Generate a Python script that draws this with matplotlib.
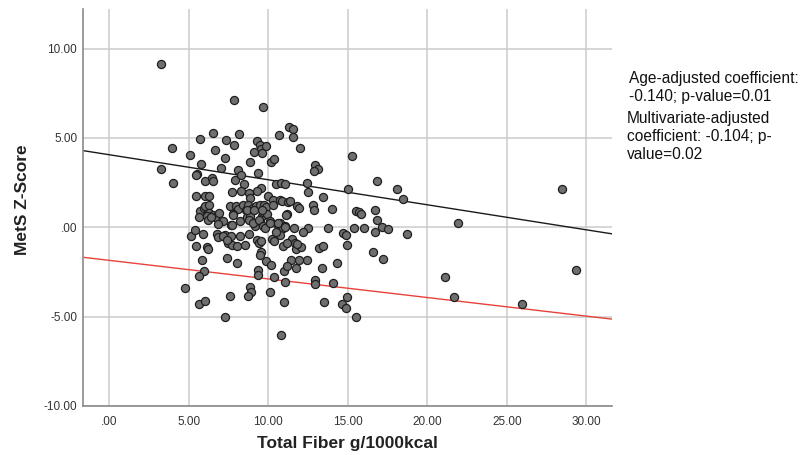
import matplotlib
matplotlib.use("Agg")
import matplotlib.pyplot as plt

plt.rcParams['font.family'] = ['Liberation Sans', 'DejaVu Sans']

# scatter data: total fiber (g/1000kcal) vs MetS z-score
fiber = [
    3.27, 7.84, 9.65, 3.94, 3.27, 3.99, 5.70, 6.50, 7.34, 8.18, 7.84, 6.65, 5.10, 5.75, 7.28, 7.00,
    8.85, 5.50, 6.00, 6.46, 6.50, 7.92, 8.09, 8.30, 8.47, 9.37, 9.31, 9.45, 9.55, 9.88, 9.12, 9.60,
    10.15, 10.34, 10.69, 11.28, 11.53, 11.53, 12.00, 10.48, 10.80, 11.07, 9.52, 9.27, 8.77, 7.70,
    8.26, 5.45, 6.05, 6.25, 15.25, 12.94, 13.10, 12.90, 12.41, 12.50, 14.99, 16.86, 18.09, 18.49,
    28.47, 13.46, 8.85, 10.00, 10.31, 10.74, 5.45,
    7.60, 7.97, 8.11, 8.43, 8.60, 8.74, 8.81, 9.06, 9.21, 9.48, 9.73, 9.86, 10.28, 10.84, 11.26, 11.82,
    5.70, 5.96, 6.13, 6.02, 6.29, 6.29, 6.54, 6.29, 6.65, 6.92, 5.64, 6.13, 6.19, 6.40,
    7.76, 8.22, 8.68, 8.85, 8.85, 9.16, 9.48, 9.58, 9.65, 9.90, 10.11, 10.53, 10.74, 10.95, 7.65,
    7.17, 6.86, 7.70, 7.80, 8.81, 9.06, 9.43, 9.69, 9.79, 10.09, 10.63, 11.05, 9.58, 8.66, 9.10, 11.19,
    11.36, 11.93, 12.79, 12.86, 14.03, 11.11, 15.52, 15.68, 15.81, 16.71, 16.86, 21.91, 11.03, 11.60,
    12.49, 13.74, 15.41, 16.04, 17.17, 17.51, 16.69, 14.72, 14.89, 14.93, 18.70, 12.16, 10.95, 11.51,
    11.68, 11.72, 12.04, 11.83, 11.16, 13.19, 13.44, 10.74,
    5.12, 5.45, 5.39, 5.91, 6.13, 6.23, 5.81, 5.96, 5.66, 4.78, 5.64, 6.00, 7.59, 7.26, 8.85, 8.89,
    8.72, 7.42, 8.01, 9.37, 9.37, 9.84, 10.17, 10.38, 10.11, 10.97, 11.05, 10.80, 6.75, 6.86, 7.28,
    7.65, 7.46, 7.70, 8.01, 8.22, 8.53, 8.81, 9.27, 9.40, 9.52, 9.54, 10.23, 10.36, 10.50, 9.48, 10.99,
    7.17, 7.38,
    12.45, 11.41, 11.93, 11.16, 11.74, 12.96, 12.92, 14.09, 21.11, 29.35, 21.68, 25.96, 14.95, 13.52,
    14.64, 14.89, 15.52, 16.57, 17.23, 14.32, 13.38,
]
zscore = [
    9.12, 7.13, 6.74, 4.44, 3.28, 2.50, 4.95, 5.28, 4.89, 5.22, 4.63, 4.35, 4.02, 3.54, 3.87, 3.31,
    3.65, 3.00, 2.61, 2.75, 2.60, 2.67, 3.20, 2.93, 2.43, 3.05, 4.85, 4.62, 4.40, 4.53, 4.20, 4.16,
    3.66, 3.81, 5.19, 5.62, 5.52, 5.04, 4.46, 2.43, 2.50, 2.45, 2.18, 2.05, 1.90, 1.98,
    2.05, 1.73, 1.75, 1.73, 4.01, 3.51, 3.27, 3.16, 2.46, 1.98, 2.17, 2.60, 2.15, 1.61,
    2.15, 1.70, 1.64, 1.73, 1.55, 1.55, 2.95,
    1.18, 1.21, 1.05, 1.27, 0.99, 1.27, 0.93, 1.08, 1.18, 1.23, 1.27, 1.15, 1.27, 1.45, 1.42, 1.18,
    0.90, 1.08, 1.08, 1.20, 1.27, 0.80, 0.67, 0.56, 0.56, 0.82, 0.58, 0.65, 0.39, 0.58,
    0.75, 0.34, 0.56, 0.43, 0.65, 0.06, 0.34, 0.62, 0.86, 0.75, 0.34, 0.19, 0.22, -0.03, 0.15,
    0.34, 0.21, 0.11, 0.71, 0.39, 0.25, 0.39, 0.10, -0.03, 0.25, 0.25, 0.06, 0.99, 0.99, 0.99, 0.75,
    1.46, 1.10, 1.23, 0.95, 1.03, 0.71, 0.92, 0.88, 0.75, 0.97, 0.39, 0.22, 0.02, -0.06,
    -0.04, -0.05, -0.02, -0.04, -0.01, -0.11, -0.26, -0.30, -0.45, -0.99, -0.35, -0.24, -1.02, -0.65,
    -0.87, -1.19, -1.10, -0.93, -0.87, -1.15, -1.02, -0.41,
    -0.50, -1.02, -0.13, -0.35, -1.12, -1.21, -1.81, -2.46, -2.74, -3.41, -4.29, -4.12, -3.86, -5.04, -3.34, -3.60,
    -3.84, -1.71, -1.99, -2.37, -2.65, -1.90, -2.09, -2.80, -3.61, -4.20, -3.08, -6.00, -0.35, -0.54, -0.41,
    -0.46, -0.87, -0.99, -1.06, -0.50, -0.97, -0.39, -0.69, -0.87, -0.76, -1.40, -0.65, -0.78, -0.28, -1.53, -2.46,
    -0.50, -0.69,
    -1.83, -1.81, -1.83, -2.16, -2.27, -2.94, -3.17, -3.13, -2.80, -2.38, -3.90, -4.29, -3.88, -4.16,
    -4.29, -4.51, -5.04, -1.40, -1.77, -1.99, -2.29,
]

# fitted lines (intercept, slope)
age_fit = (4.06, -0.140)
multi_fit = (-1.85, -0.104)

xticks = [0, 5, 10, 15, 20, 25, 30]
yticks = [-10, -5, 0, 5, 10]
xtick_labels = ['.00', '5.00', '10.00', '15.00', '20.00', '25.00', '30.00']
ytick_labels = ['-10.00', '-5.00', '.00', '5.00', '10.00']

note_age = "Age-adjusted coefficient:\n-0.140; p-value=0.01"
note_multi = "Multivariate-adjusted\ncoefficient: -0.104; p-\nvalue=0.02"

fig = plt.figure(figsize=(8.07, 4.55), dpi=100)
ax = fig.add_axes([0.1025, 0.1077, 0.6555, 0.8719])

ax.set_xlim(-1.67, 31.6)
ax.set_ylim(-10, 12.2)
ax.set_xticks(xticks)
ax.set_xticklabels(xtick_labels)
ax.set_yticks(yticks)
ax.set_yticklabels(ytick_labels)
ax.tick_params(length=0, labelsize=8.5, labelcolor='#333333')
ax.tick_params(axis='y', pad=4)
ax.tick_params(axis='x', pad=7)

ax.grid(True, color='#cccccc', linewidth=1.1)
ax.set_axisbelow(True)
for s in ['top', 'right']:
    ax.spines[s].set_visible(False)
for s in ['left', 'bottom']:
    ax.spines[s].set_color('#8a8a8a')
    ax.spines[s].set_linewidth(1.2)

ax.scatter(fiber, zscore, s=34, facecolor='#6f6f6f', edgecolor='#1e1e1e', linewidth=0.9, zorder=3)

ax.axline((0, age_fit[0]), slope=age_fit[1], color='#1a1a1a', linewidth=1.0, zorder=2)
ax.axline((0, multi_fit[0]), slope=multi_fit[1], color='#e8423b', linewidth=1.0, zorder=2)

ax.set_xlabel('Total Fiber g/1000kcal', fontsize=12.5, fontweight='bold', color='#222222')
ax.set_ylabel('MetS Z-Score', fontsize=12.5, fontweight='bold', color='#222222')
ax.xaxis.set_label_coords(0.5, -0.076)
ax.yaxis.set_label_coords(-0.1, 0.52)

fig.text(0.779, 0.843, note_age, fontsize=11.2, va='top', ha='left', linespacing=1.25, color='#111111')
fig.text(0.777, 0.757, note_multi, fontsize=11.2, va='top', ha='left', linespacing=1.25, color='#111111')

fig.savefig('out.png', dpi=100)
